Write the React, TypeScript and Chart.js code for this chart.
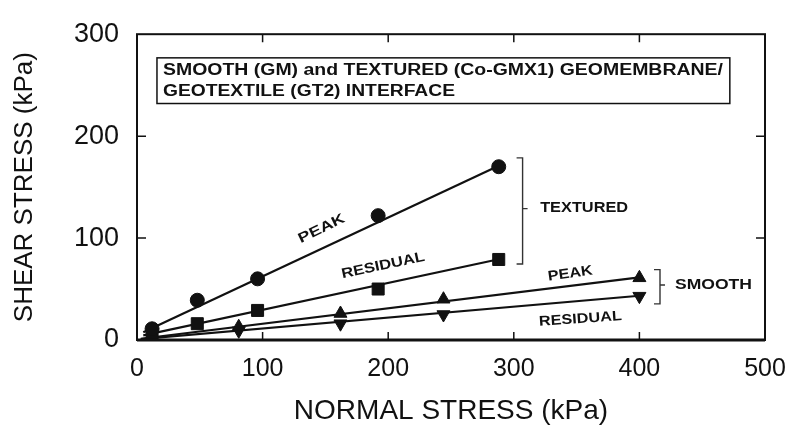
import { useEffect, useRef } from 'react';
import { Chart, registerables } from 'chart.js';

Chart.register(...registerables);

// measured points, normal stress (kPa) vs shear stress (kPa)
const texturedPeakX = [12, 48, 96, 192, 288];
const texturedPeakY = [11, 39, 60, 122, 170];
const texturedResidualX = [12, 48, 96, 192, 288];
const texturedResidualY = [5, 16, 29, 50, 79];
const smoothPeakX = [81, 162, 244, 400];
const smoothPeakY = [13, 26, 40, 61];
const smoothResidualX = [81, 162, 244, 400];
const smoothResidualY = [9, 16, 25, 43];

// fitted envelopes (start and end points)
const texturedPeakFitX = [5, 288];
const texturedPeakFitY = [7.7, 171];
const texturedResidualFitX = [5, 288];
const texturedResidualFitY = [4.6, 79.2];
const smoothPeakFitX = [3, 400];
const smoothPeakFitY = [1.2, 61.5];
const smoothResidualFitX = [3, 400];
const smoothResidualFitY = [0.9, 43.4];

const xTicks = [0, 100, 200, 300, 400, 500];
const yTicks = [0, 100, 200, 300];

const titleLines = ['SMOOTH (GM) and TEXTURED (Co-GMX1) GEOMEMBRANE/', 'GEOTEXTILE (GT2) INTERFACE'];

const toPoints = (xs: number[], ys: number[]) => xs.map((x, i) => ({ x, y: ys[i] }));

const FONT = '"Liberation Sans", Arial, Helvetica, sans-serif';

// labels placed in data units
const notes = [
  { text: 'PEAK', x: 147, y: 109, angle: -26, width: 50 },
  { text: 'RESIDUAL', x: 196, y: 73, angle: -12, width: 85 },
  { text: 'TEXTURED', x: 356, y: 129.5, angle: 0, width: 88 },
  { text: 'PEAK', x: 345, y: 65, angle: -8, width: 45 },
  { text: 'SMOOTH', x: 459, y: 54, angle: 0, width: 77 },
  { text: 'RESIDUAL', x: 353, y: 20.5, angle: -4, width: 83 },
];

const brackets = [
  { x: 307, top: 178.7, bottom: 74.6, mid: 128.9 },
  { x: 416.4, top: 69, bottom: 35.4, mid: 54 },
];

function stretchText(ctx: CanvasRenderingContext2D, text: string, x: number, y: number, size: number, width: number, angle: number, align: CanvasTextAlign) {
  ctx.save();
  ctx.translate(x, y);
  ctx.rotate((angle * Math.PI) / 180);
  ctx.font = `bold ${size}px ${FONT}`;
  const w = ctx.measureText(text).width;
  ctx.scale(width / w, 1);
  ctx.textAlign = align;
  ctx.textBaseline = 'middle';
  ctx.fillStyle = '#111';
  ctx.fillText(text, 0, 0);
  ctx.restore();
}

const framePlugin = {
  id: 'frame',
  afterDatasetsDraw(chart: any) {
    const { ctx, chartArea: a, scales } = chart;
    const xs = scales.x;
    const ys = scales.y;
    ctx.save();
    ctx.strokeStyle = '#111';
    // axes box
    ctx.lineWidth = 2;
    ctx.strokeRect(a.left, a.top, a.right - a.left, a.bottom - a.top);
    ctx.lineWidth = 3;
    ctx.beginPath();
    ctx.moveTo(a.left, a.bottom);
    ctx.lineTo(a.right, a.bottom);
    ctx.stroke();
    // inward ticks
    ctx.lineWidth = 1.5;
    xTicks.slice(1, -1).forEach((v) => {
      const px = xs.getPixelForValue(v);
      ctx.beginPath();
      ctx.moveTo(px, a.bottom);
      ctx.lineTo(px, a.bottom - 8);
      ctx.moveTo(px, a.top);
      ctx.lineTo(px, a.top + 8);
      ctx.stroke();
    });
    yTicks.slice(1, -1).forEach((v) => {
      const py = ys.getPixelForValue(v);
      ctx.beginPath();
      ctx.moveTo(a.left, py);
      ctx.lineTo(a.left + 9, py);
      ctx.moveTo(a.right, py);
      ctx.lineTo(a.right - 9, py);
      ctx.stroke();
    });
    // title box
    const bx0 = xs.getPixelForValue(15.9);
    const bx1 = xs.getPixelForValue(472);
    const by0 = ys.getPixelForValue(276.8);
    const by1 = ys.getPixelForValue(232);
    ctx.lineWidth = 1.5;
    ctx.strokeRect(bx0, by0, bx1 - bx0, by1 - by0);
    stretchText(ctx, titleLines[0], bx0 + 6, ys.getPixelForValue(264), 16, 560, 0, 'left');
    stretchText(ctx, titleLines[1], bx0 + 6, ys.getPixelForValue(244), 16, 292, 0, 'left');
    // brackets
    ctx.lineWidth = 1.4;
    ctx.strokeStyle = '#333';
    brackets.forEach((b) => {
      const px = xs.getPixelForValue(b.x);
      const t = ys.getPixelForValue(b.top);
      const bt = ys.getPixelForValue(b.bottom);
      const m = ys.getPixelForValue(b.mid);
      ctx.beginPath();
      ctx.moveTo(px - 6, t);
      ctx.lineTo(px, t);
      ctx.lineTo(px, bt);
      ctx.lineTo(px - 6, bt);
      ctx.moveTo(px, m);
      ctx.lineTo(px + 5, m);
      ctx.stroke();
    });
    notes.forEach((n) => {
      stretchText(ctx, n.text, xs.getPixelForValue(n.x), ys.getPixelForValue(n.y), 14, n.width, n.angle, 'center');
    });
    ctx.restore();
  },
};

export default function App() {
  const canvasRef = useRef<HTMLCanvasElement>(null);

  useEffect(() => {
    if (!canvasRef.current) return;
    const ctx = canvasRef.current.getContext('2d');
    if (!ctx) return;

    const fitLine = (xs: number[], ys: number[]) => ({
      data: toPoints(xs, ys),
      showLine: true,
      borderColor: '#111',
      borderWidth: 2.2,
      pointRadius: 0,
      order: 2,
    });
    const marks = (xs: number[], ys: number[], style: string, radius: number, rotation = 0) => ({
      data: toPoints(xs, ys),
      showLine: false,
      pointStyle: style,
      pointRadius: radius,
      pointRotation: rotation,
      pointBackgroundColor: '#111',
      pointBorderColor: '#111',
      pointBorderWidth: 1,
      order: 1,
    });

    const chart = new Chart(ctx, {
      type: 'scatter',
      data: {
        datasets: [
          fitLine(texturedPeakFitX, texturedPeakFitY),
          fitLine(texturedResidualFitX, texturedResidualFitY),
          fitLine(smoothPeakFitX, smoothPeakFitY),
          fitLine(smoothResidualFitX, smoothResidualFitY),
          marks(texturedPeakX, texturedPeakY, 'circle', 7),
          marks(texturedResidualX, texturedResidualY, 'rect', 8.5),
          marks(smoothPeakX, smoothPeakY, 'triangle', 7.5),
          marks(smoothResidualX, smoothResidualY, 'triangle', 7.5, 180),
        ] as any,
      },
      options: {
        animation: false,
        responsive: true,
        maintainAspectRatio: false,
        layout: { padding: { top: 17, right: 35, left: 0, bottom: 0 } },
        plugins: {
          legend: { display: false },
          tooltip: { enabled: false },
        },
        scales: {
          x: {
            type: 'linear',
            min: 0,
            max: 500,
            afterFit: (s: any) => {
              s.height = 91;
            },
            afterBuildTicks: (s: any) => {
              s.ticks = xTicks.map((v) => ({ value: v }));
            },
            grid: { display: false, drawTicks: false },
            border: { display: false },
            ticks: {
              padding: 14,
              color: '#111',
              font: { family: FONT, size: 25 },
            },
            title: {
              display: true,
              text: 'NORMAL STRESS (kPa)',
              color: '#111',
              font: { family: FONT, size: 28 },
              padding: { top: 0, bottom: 3 },
            },
          },
          y: {
            type: 'linear',
            min: 0,
            max: 300,
            afterFit: (s: any) => {
              s.width = 137;
            },
            afterBuildTicks: (s: any) => {
              s.ticks = yTicks.map((v) => ({ value: v }));
            },
            grid: { display: false, drawTicks: false },
            border: { display: false },
            ticks: {
              padding: 18,
              color: '#111',
              font: { family: FONT, size: 27 },
            },
            title: {
              display: true,
              text: 'SHEAR STRESS (kPa)',
              color: '#111',
              font: { family: FONT, size: 26 },
              padding: { top: 9, bottom: 0 },
            },
          },
        },
      },
      plugins: [framePlugin],
    });

    return () => chart.destroy();
  }, []);

  return (
    <div style={{ position: 'absolute', left: 0, top: 0, width: 800, height: 431, background: '#fff' }}>
      <canvas ref={canvasRef} />
    </div>
  );
}
